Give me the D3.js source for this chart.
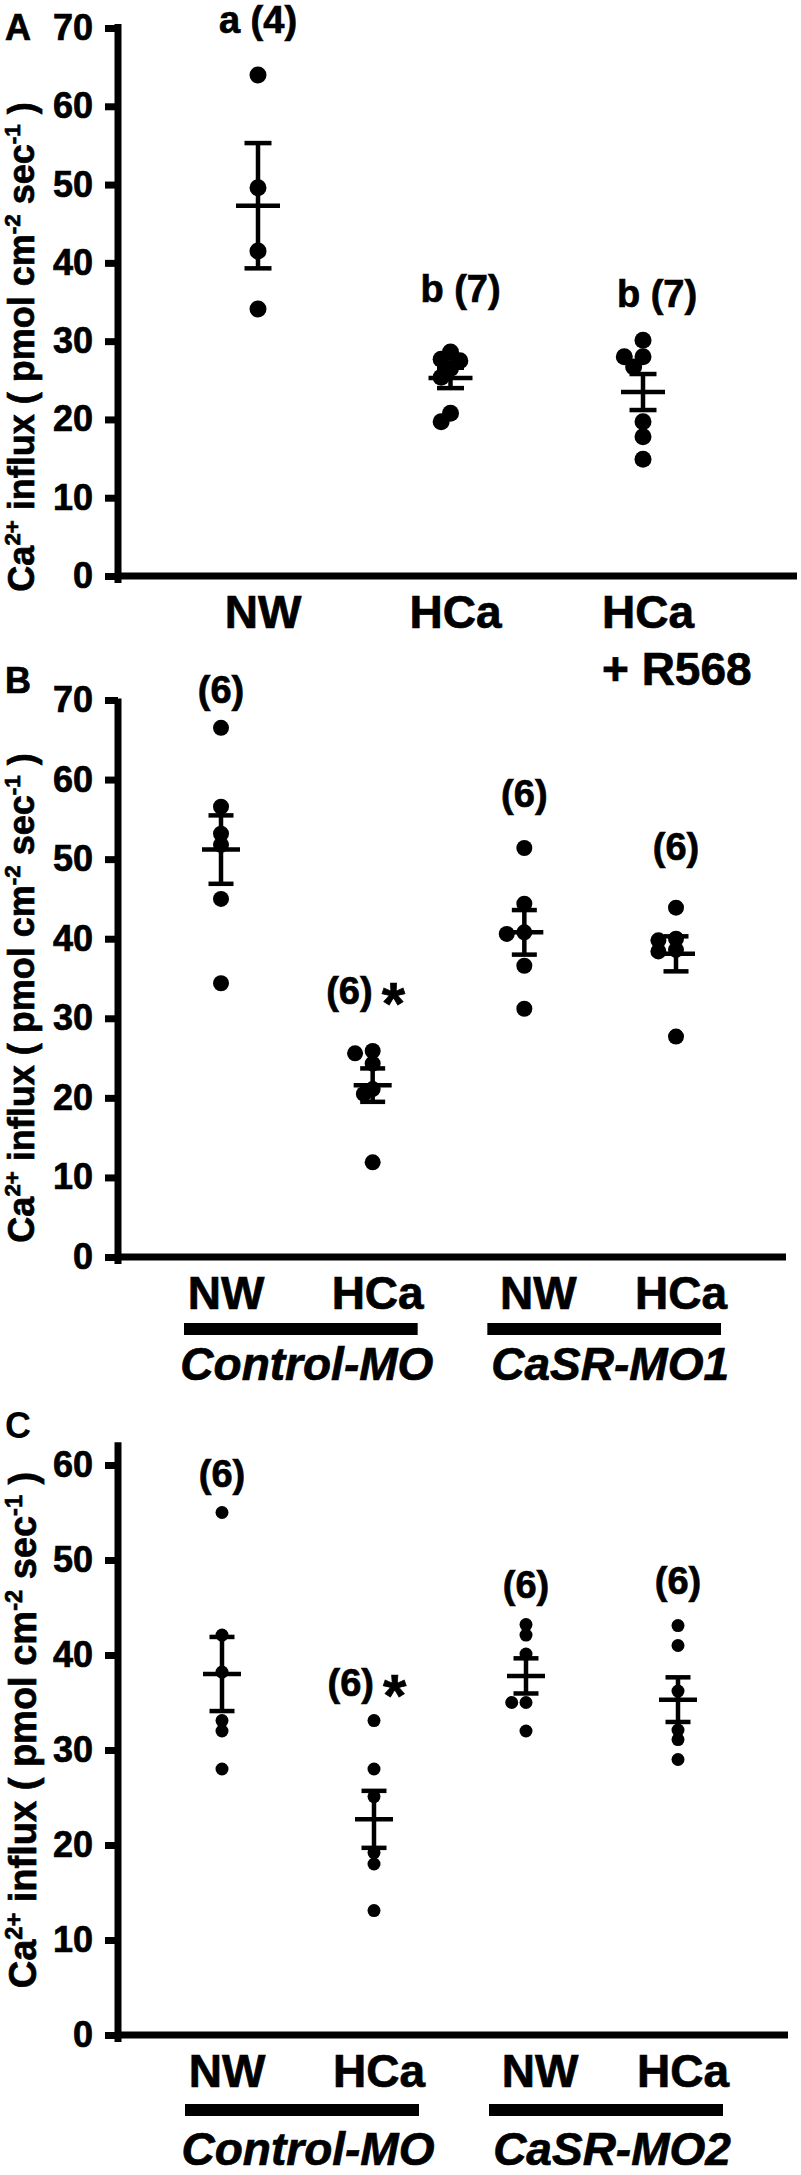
<!DOCTYPE html>
<html>
<meta charset="utf-8">
<head>
<title>Ca2+ influx</title>
<script src="https://cdnjs.cloudflare.com/ajax/libs/d3/7.8.5/d3.min.js"></script>
<style>
  body { margin: 0; background: #fff; }
  text { font-family: Arial, "Liberation Sans", sans-serif; font-weight: bold; fill: #000; stroke: #000; stroke-width: 0.7px; }
</style>
</head>
<body>
<script>

// ---- values (pmol cm-2 sec-1) ----

// Panel A
const treatA = ["NW", "HCa", "HCa + R568"];
const ptsA = [
    [64.0, 49.6, 41.5, 34.1],
    [28.6, 27.7, 27.5, 26.5, 25.4, 20.8, 19.7],
    [30.1, 28.0, 28.0, 26.7, 19.7, 17.8, 14.9]
];
const meanA = [47.3, 25.3, 23.5];
const semA = [8.0, 1.3, 2.3];
const noteA = ["a (4)", "b (7)", "b (7)"];
const noteAtA = [69.3, 35.0, 34.4];

// Panel B
const treatB = ["NW", "HCa", "NW", "HCa"];
const moB = ["Control-MO", "CaSR-MO1"];
const ptsB = [
    [66.5, 56.6, 53.2, 51.8, 45.0, 34.4],
    [25.9, 25.6, 24.3, 21.1, 20.5, 11.9],
    [51.4, 44.4, 40.8, 40.6, 36.6, 31.2],
    [43.9, 40.0, 39.8, 38.6, 38.4, 27.7]
];
const meanB = [51.2, 21.6, 40.8, 38.1];
const semB = [4.3, 2.1, 2.8, 2.2];
const noteB = ["(6)", "(6)", "(6)", "(6)"];
const starB = [false, true, false, false];
const noteAtB = [69.6, 31.8, 56.6, 49.9];

// Panel C
const treatC = ["NW", "HCa", "NW", "HCa"];
const moC = ["Control-MO", "CaSR-MO2"];
const ptsC = [
    [55.0, 42.1, 38.2, 33.1, 32.0, 28.0],
    [33.1, 28.0, 25.1, 19.2, 18.0, 13.1],
    [43.2, 42.1, 40.1, 35.0, 35.0, 32.0],
    [43.1, 41.0, 36.2, 32.1, 31.1, 29.0]
];
const meanC = [38.0, 22.7, 37.8, 35.3];
const semC = [3.9, 3.0, 1.85, 2.35];
const noteC = ["(6)", "(6)", "(6)", "(6)"];
const starC = [false, true, false, false];
const noteAtC = [57.7, 35.7, 46.0, 46.4];

const yTicksA = [0, 10, 20, 30, 40, 50, 60, 70];
const yTicksC = [0, 10, 20, 30, 40, 50, 60];

// ---- layout ----
const width = 801,
    height = 2175,
    axisX = 118;

const svg = d3.select("body")
    .append("svg")
    .attr("width", width)
    .attr("height", height);

// spread overlapping dots sideways (simple beeswarm)
function swarm(vals, y, r) {
    const placed = [];
    const out = new Array(vals.length);
    const order = vals.map((v, i) => i).sort((a, b) => vals[b] - vals[a]);
    for (const i of order) {
        const py = y(vals[i]);
        let dx = 0;
        for (let k = 0; k < 9; k++) {
            const cand = k === 0 ? 0 : (k % 2 ? -1 : 1) * Math.ceil(k / 2) * r * 1.1;
            if (placed.every(p => Math.hypot(p[0] - cand, p[1] - py) >= r * 1.2)) { dx = cand; break; }
        }
        placed.push([dx, py]);
        out[i] = dx;
    }
    return out;
}

function yLabel(cx, cy, size) {
    const t = svg.append("text")
        .attr("transform", `translate(${cx},${cy}) rotate(-90)`)
        .attr("text-anchor", "middle")
        .attr("font-size", size);
    const sup = size * 0.62, up = size * 0.38;
    t.append("tspan").text("Ca");
    t.append("tspan").attr("dy", -up).attr("font-size", sup).text("2+");
    t.append("tspan").attr("dy", up).text(" influx ( pmol cm");
    t.append("tspan").attr("dy", -up).attr("font-size", sup).text("-2");
    t.append("tspan").attr("dy", up).text(" sec");
    t.append("tspan").attr("dy", -up).attr("font-size", sup).text("-1");
    t.append("tspan").attr("dy", up).text(" )");
}

function drawPanel(p) {
    const g = svg.append("g");
    const y = d3.scaleLinear().domain([0, p.yMax]).range([p.y0, p.yMaxPx]);
    const keys = p.treat.map((t, i) => i);
    const x = d3.scalePoint().domain(keys).range(p.xRange);

    // y axis ticks + labels
    const ag = g.append("g")
        .attr("transform", `translate(${axisX},0)`)
        .call(d3.axisLeft(y).tickValues(p.ticks).tickSizeInner(13).tickSizeOuter(0).tickPadding(12));
    ag.select(".domain").remove();
    ag.selectAll(".tick line").attr("stroke", "#000").attr("stroke-width", 7);
    ag.selectAll(".tick text").attr("font-size", 36).attr("fill", "#000");

    // axis lines
    g.append("line")
        .attr("x1", axisX).attr("x2", axisX)
        .attr("y1", y(0) + 7).attr("y2", y(p.axisTop))
        .attr("stroke", "#000").attr("stroke-width", 7);
    g.append("line")
        .attr("x1", axisX - 3).attr("x2", p.xEnd)
        .attr("y1", y(0)).attr("y2", y(0))
        .attr("stroke", "#000").attr("stroke-width", 7);

    // dots
    p.pts.forEach((vals, i) => {
        const off = swarm(vals, y, p.r);
        g.selectAll(null)
            .data(vals)
            .enter()
            .append("circle")
            .attr("cx", (d, j) => x(i) + off[j])
            .attr("cy", d => y(d))
            .attr("r", p.r)
            .attr("fill", "#000");
    });

    // mean +/- SEM
    keys.forEach(i => {
        const cx = x(i), m = p.mean[i], s = p.sem[i];
        const eb = g.append("g").attr("stroke", "#000").attr("stroke-width", 4.5);
        eb.append("line").attr("x1", cx).attr("x2", cx).attr("y1", y(m - s)).attr("y2", y(m + s));
        eb.append("line").attr("x1", cx - p.meanHalf).attr("x2", cx + p.meanHalf).attr("y1", y(m)).attr("y2", y(m));
        [m - s, m + s].forEach(v => {
            eb.append("line").attr("x1", cx - p.capHalf).attr("x2", cx + p.capHalf).attr("y1", y(v)).attr("y2", y(v));
        });
    });

    // n / letters above groups
    keys.forEach(i => {
        const t = g.append("text")
            .attr("y", y(p.noteAt[i]))
            .attr("font-size", 38)
            .text(p.note[i]);
        if (p.star && p.star[i]) {
            t.attr("x", x(i)).attr("text-anchor", "end");
            g.append("text")
                .attr("x", x(i) + 9)
                .attr("y", y(p.noteAt[i]) + 20)
                .attr("font-size", 60)
                .text("*");
        } else {
            t.attr("x", x(i) + (p.noteDx ? p.noteDx[i] : 0)).attr("text-anchor", "middle");
        }
    });

    // x category labels
    keys.forEach(i => {
        const lines = p.treat[i].split(" + ");
        const shift = p.mo && i === 2 ? 14 : 5;
        const t = g.append("text")
            .attr("x", x(i) + shift)
            .attr("y", y(0) + 52)
            .attr("text-anchor", "middle")
            .attr("font-size", 46)
            .text(lines[0]);
        if (lines.length > 1) {
            const left = x(i) + shift - t.node().getComputedTextLength() / 2;
            g.append("text")
                .attr("x", left)
                .attr("y", y(0) + 109)
                .attr("font-size", 46)
                .text("+ " + lines[1]);
        }
    });

    // morpholino bars + names
    if (p.mo) {
        p.mo.forEach((name, k) => {
            const x1 = x(2 * k) - 37, x2 = x(2 * k + 1) + 45;
            g.append("line")
                .attr("x1", x1).attr("x2", x2)
                .attr("y1", y(0) + p.barDy).attr("y2", y(0) + p.barDy)
                .attr("stroke", "#000").attr("stroke-width", 12);
            g.append("text")
                .attr("x", (x1 + x2) / 2 + 6)
                .attr("y", y(0) + p.moDy)
                .attr("text-anchor", "middle")
                .attr("font-size", 46)
                .attr("font-style", "italic")
                .text(name);
        });
    }

    yLabel(p.labelX, p.labelY, p.labelSize);

    svg.append("text")
        .attr("x", 5)
        .attr("y", p.letterY)
        .attr("font-size", 36)
        .attr("font-weight", p.letterWeight)
        .style("stroke-width", p.letterWeight === "bold" ? null : "0px")
        .text(p.letter);
}

drawPanel({
    letter: "A", letterY: 40, letterWeight: "bold",
    treat: treatA, pts: ptsA, mean: meanA, sem: semA,
    note: noteA, noteAt: noteAtA, noteDx: [0, 10, 14],
    yMax: 70, y0: 576, yMaxPx: 28, axisTop: 70.5, ticks: yTicksA,
    xRange: [258, 643], xEnd: 797, r: 8.5, meanHalf: 22, capHalf: 13.5,
    labelX: 34, labelY: 347, labelSize: 36
});

drawPanel({
    letter: "B", letterY: 693, letterWeight: "bold",
    treat: treatB, mo: moB, pts: ptsB, mean: meanB, sem: semB,
    note: noteB, star: starB, noteAt: noteAtB,
    yMax: 70, y0: 1257, yMaxPx: 700, axisTop: 70.2, ticks: yTicksA,
    xRange: [221, 676], xEnd: 786, r: 8, meanHalf: 19, capHalf: 12.5,
    barDy: 72, moDy: 123,
    labelX: 34, labelY: 998, labelSize: 36
});

drawPanel({
    letter: "C", letterY: 1438, letterWeight: "normal",
    treat: treatC, mo: moC, pts: ptsC, mean: meanC, sem: semC,
    note: noteC, star: starC, noteAt: noteAtC,
    yMax: 60, y0: 2035, yMaxPx: 1465, axisTop: 62.4, ticks: yTicksC,
    xRange: [222, 678], xEnd: 788, r: 6.5, meanHalf: 19, capHalf: 12.5,
    barDy: 75, moDy: 130,
    labelX: 36, labelY: 1730, labelSize: 38
});

</script>
</body>
</html>
